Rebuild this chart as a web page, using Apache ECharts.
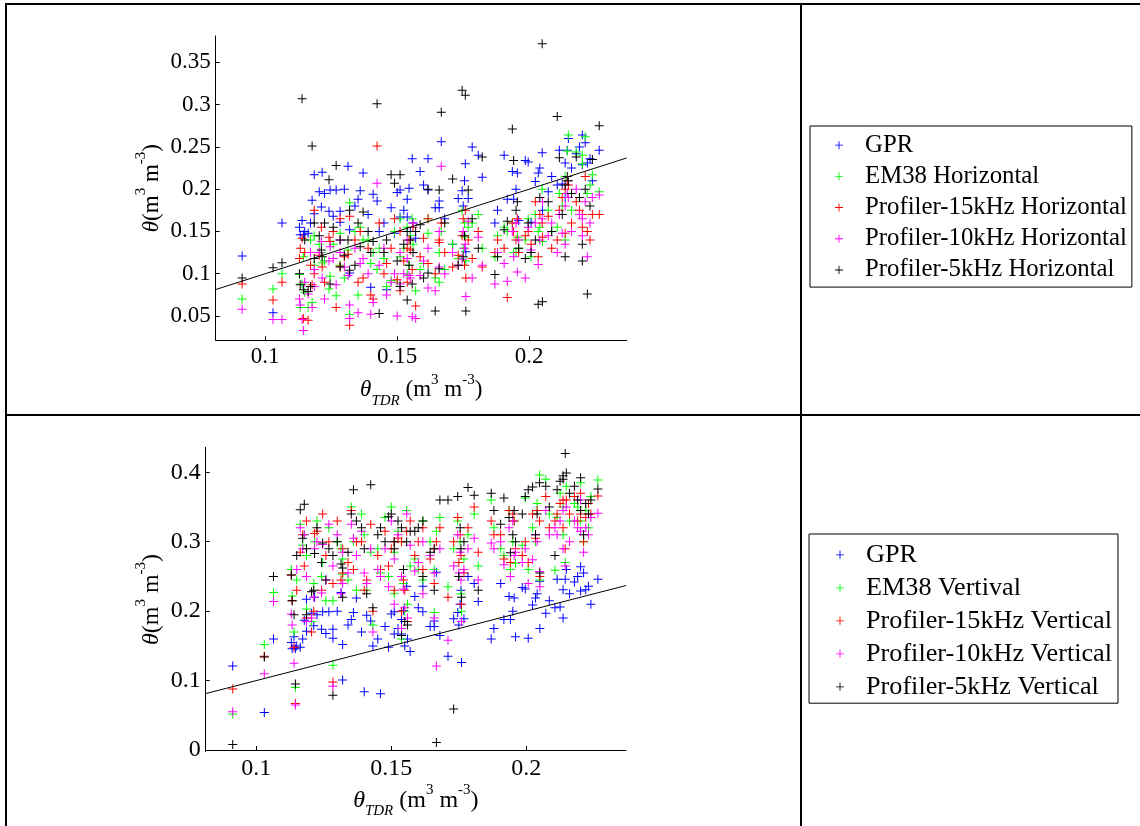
<!DOCTYPE html>
<html><head><meta charset="utf-8">
<script src="https://cdn.jsdelivr.net/npm/echarts@6/dist/echarts.min.js"></script>
<style>html,body{margin:0;padding:0;background:#fff}#c{width:1140px;height:826px}</style>
</head><body><div id="c"></div>
<script>
// Shared TDR soil moisture (x) for every sampling location
const tdr = [0.0913,0.1030,0.1064,0.1130,0.1133,0.1140,0.1145,0.1163,0.1178,0.1186,
0.1186,0.1205,0.1213,0.1216,0.1242,0.1246,0.1269,0.1284,0.1284,0.1314,
0.1320,0.1320,0.1352,0.1360,0.1371,0.1400,0.1409,0.1424,0.1432,0.1460,
0.1477,0.1490,0.1500,0.1511,0.1511,0.1538,0.1538,0.1545,0.1557,0.1560,
0.1570,0.1587,0.1617,0.1617,0.1644,0.1659,0.1659,0.1667,0.1710,0.1731,
0.1746,0.1758,0.1760,0.1769,0.1784,0.1807,0.1822,0.1870,0.1905,0.1917,
0.1936,0.1941,0.1955,0.1960,0.1985,0.1996,0.2007,0.2023,0.2034,0.2049,
0.2050,0.2072,0.2106,0.2114,0.2125,0.2136,0.2136,0.2144,0.2148,0.2178,
0.2201,0.2201,0.2212,0.2220,0.2239,0.2265,
0.1150,0.1172,0.1225,0.1258,0.1300,0.1340,0.1390,0.1450,0.1525,0.1550,
0.1600,0.1680,0.1750,0.1755,0.1880,0.1950,0.2040,0.2085,0.2160,0.2190,0.2230];
const gpr = [.121,.054,.160,.155,.146,.163,.146,.148,.187,.171,
.217,.197,.179,.220,.174,.199,.199,.174,.161,.227,
.152,.101,.188,.198,.219,.084,.194,.186,.150,.081,
.178,.148,.196,.199,.167,.188,.167,.201,.236,.160,
.142,.221,.236,.199,.178,.186,.178,.256,.135,.189,
.198,.230,.126,.189,.250,.240,.214,.160,.240,.188,
.221,.188,.219,.163,.234,.232,.161,.209,.219,.243,
.175,.197,.205,.246,.206,.231,.190,.246,.260,.242,
.264,.229,.255,.231,.210,.246,
.150,.160,.195,.168,.200,.180,.170,.160,.175,.150,
.205,.165,.180,.210,.175,.200,.225,.215,.225,.250,.236];
const em38H = [.070,.082,.100,.099,.060,.088,.120,.060,.066,.110,
.145,.135,.125,.113,.082,.097,.074,.110,.148,.128,
.184,.052,.075,.155,.140,.112,.125,.105,.130,.085,
.092,.150,.090,.165,.120,.155,.100,.110,.165,.135,
.080,.105,.148,.165,.095,.125,.090,.150,.135,.118,
.175,.143,.115,.155,.160,.170,.130,.120,.155,.150,
.160,.125,.143,.130,.140,.165,.120,.170,.150,.200,
.138,.175,.155,.195,.180,.215,.140,.245,.264,.244,
.230,.240,.262,.195,.217,.197,
.078,.140,.115,.135,.095,.150,.140,.118,.130,.145,
.112,.105,.130,.160,.145,.125,.155,.150,.175,.190,.205];
const p15H = [.088,.069,.090,.118,.130,.142,.047,.045,.087,.175,
.100,.122,.155,.108,.143,.138,.060,.109,.165,.123,
.168,.039,.090,.150,.095,.075,.070,.251,.160,.112,
.130,.165,.093,.150,.080,.130,.090,.140,.105,.155,
.062,.120,.165,.112,.100,.137,.140,.160,.108,.122,
.145,.175,.095,.140,.118,.150,.108,.125,.130,.072,
.160,.150,.165,.125,.145,.150,.135,.185,.120,.160,
.143,.168,.140,.175,.190,.200,.148,.210,.205,.185,
.170,.155,.215,.150,.170,.170,
.125,.110,.090,.150,.120,.140,.130,.100,.115,.128,
.142,.125,.165,.110,.140,.140,.170,.130,.160,.175,.140];
const p10H = [.058,.046,.046,.070,.063,.046,.033,.076,.060,.085,
.105,.125,.138,.095,.115,.132,.087,.140,.125,.098,
.063,.047,.054,.112,.118,.052,.066,.207,.110,.075,
.090,.100,.050,.125,.088,.140,.118,.098,.049,.160,
.047,.098,.130,.083,.080,.150,.108,.227,.125,.110,
.117,.135,.073,.162,.095,.143,.110,.088,.112,.091,
.150,.120,.102,.140,.095,.155,.128,.160,.111,.165,
.185,.145,.125,.170,.148,.180,.135,.195,.190,.200,
.145,.165,.185,.120,.190,.193,
.090,.125,.070,.118,.108,.130,.100,.130,.100,.095,
.115,.100,.150,.130,.125,.160,.140,.160,.150,.170,.160];
const p5H = [.095,.107,.113,.100,.087,.307,.081,.079,.251,.118,
.160,.145,.128,.120,.211,.088,.228,.140,.108,.140,
.175,.104,.160,.132,.173,.125,.138,.301,.053,.140,
.217,.207,.115,.217,.085,.150,.069,.110,.088,.125,
.150,.158,.200,.101,.056,.199,.106,.291,.212,.110,
.317,.311,.056,.199,.165,.130,.238,.099,.152,.162,
.271,.234,.185,.130,.118,.160,.125,.140,.064,.372,
.067,.185,.286,.237,.170,.120,.205,.215,.210,.238,
.135,.115,.200,.076,.235,.275,
.140,.085,.160,.155,.122,.110,.150,.125,.135,.140,
.095,.160,.120,.145,.120,.175,.190,.150,.195,.190,.180];
const em38V = [.052,.152,.227,.260,.222,.170,.090,.325,.310,.280,
.203,.185,.240,.300,.250,.270,.320,.122,.215,.290,
.275,.253,.350,.300,.230,.310,.230,.285,.180,.255,
.335,.250,.350,.225,.285,.160,.300,.240,.345,.210,
.265,.275,.330,.245,.300,.198,.260,.315,.235,.290,
.330,.225,.200,.275,.310,.340,.265,.360,.290,.280,
.345,.260,.330,.269,.295,.363,.260,.320,.300,.396,
.245,.390,.259,.335,.370,.310,.350,.270,.380,.355,
.330,.385,.300,.345,.365,.389,
.245,.295,.330,.215,.300,.245,.340,.290,.315,.200,
.260,.335,.250,.300,.320,.300,.355,.340,.330,.350,.320];
const p15V = [.088,.135,.250,.252,.215,.148,.067,.285,.265,.330,
.190,.170,.200,.312,.230,.340,.300,.098,.240,.245,
.255,.290,.345,.260,.300,.230,.245,.325,.200,.260,
.315,.265,.290,.230,.300,.200,.300,.245,.315,.185,
.330,.280,.320,.260,.275,.240,.290,.300,.220,.300,
.335,.280,.210,.255,.320,.350,.285,.330,.310,.275,
.345,.270,.330,.290,.280,.300,.270,.340,.305,.330,
.250,.365,.330,.340,.355,.320,.360,.290,.360,.365,
.340,.370,.300,.335,.340,.366,
.230,.310,.315,.280,.330,.270,.300,.280,.305,.230,
.300,.320,.270,.310,.310,.340,.345,.320,.340,.330,.355];
const p10V = [.055,.110,.214,.196,.180,.125,.065,.320,.310,.250,
.185,.190,.220,.290,.226,.296,.325,.092,.265,.225,
.285,.240,.325,.305,.280,.255,.240,.290,.170,.250,
.290,.235,.330,.210,.275,.175,.250,.232,.340,.190,
.295,.258,.300,.225,.280,.190,.255,.121,.158,.265,
.310,.245,.185,.260,.290,.305,.245,.298,.300,.267,
.320,.250,.280,.285,.270,.290,.240,.274,.310,.257,
.235,.345,.320,.310,.330,.290,.345,.265,.350,.330,
.315,.360,.285,.320,.335,.341,
.260,.290,.300,.245,.310,.255,.315,.260,.310,.205,
.270,.290,.255,.285,.290,.330,.300,.310,.300,.320,.310];
const p5V = [.008,.134,.250,.252,.215,.195,.095,.346,.354,.290,
.195,.228,.230,.283,.270,.298,.290,.079,.280,.268,
.262,.220,.340,.375,.330,.290,.225,.382,.205,.320,
.300,.336,.340,.290,.300,.165,.320,.260,.300,.180,
.315,.315,.330,.250,.285,.230,.290,.011,.360,.059,
.365,.290,.220,.300,.378,.367,.230,.370,.325,.363,
.335,.284,.345,.300,.340,.365,.375,.379,.310,.385,
.255,.380,.280,.375,.387,.390,.395,.427,.399,.380,
.345,.392,.310,.355,.360,.376,
.280,.305,.320,.245,.300,.285,.320,.310,.330,.185,
.320,.360,.250,.320,.345,.310,.340,.350,.370,.360,.340];

// 1:1 reference line ends (axis limits)
const lineEnds = [0.0813, 0.2369];
const xTicks = [0.1, 0.15, 0.2];
const yTicksTop = [0.05, 0.1, 0.15, 0.2, 0.25, 0.3, 0.35];
const yTicksBottom = [0, 0.1, 0.2, 0.3, 0.4];
const namesTop = ['GPR','EM38 Horizontal','Profiler-15kHz Horizontal','Profiler-10kHz Horizontal','Profiler-5kHz Horizontal'];
const namesBottom = ['GPR','EM38 Vertival','Profiler-15kHz Vertical','Profiler-10kHz Vertical','Profiler-5kHz Vertical'];
const colors = ['#0000ff','#00ff00','#ff0000','#ff00ff','#000000'];

const FONT = '"Liberation Serif","Times New Roman",serif';
const PLUS = 'path://M4,0H5V4H9V5H5V9H4V5H0V4H4Z';
const topY = [gpr, em38H, p15H, p10H, p5H];
const botY = [gpr, em38V, p15V, p10V, p5V];
const pair = ys => tdr.map((x, i) => [x, ys[i]]);
const fmt = v => String(+v.toFixed(3));

function rich(fs, sfs, lh, slh) {
  return {
    n: {fontFamily: FONT, fontSize: fs, lineHeight: lh, color: '#000'},
    th: {fontFamily: FONT, fontSize: fs, lineHeight: lh, fontStyle: 'italic', color: '#000'},
    sub: {fontFamily: FONT, fontSize: sfs, lineHeight: slh, fontStyle: 'italic', verticalAlign: 'bottom', color: '#000'},
    sup: {fontFamily: FONT, fontSize: sfs, lineHeight: slh, verticalAlign: 'top', color: '#000'}
  };
}
const xName = '{th|θ}{sub|TDR}{n| (m}{sup|3}{n| m}{sup|-3}{n|)}';
const yName = '{th|θ}{n|(m}{sup|3}{n| m}{sup|-3}{n|)}';

function xAxis(gi, fs, gap) {
  return {
    type: 'value', gridIndex: gi, min: lineEnds[0], max: lineEnds[1],
    splitLine: {show: false},
    axisLine: {lineStyle: {color: '#000', width: 1}},
    axisTick: {inside: true, length: 4, customValues: xTicks, lineStyle: {color: '#000'}},
    axisLabel: {customValues: xTicks, formatter: fmt, fontFamily: FONT, fontSize: fs, color: '#000', margin: 5},
    name: xName, nameLocation: 'middle', nameGap: gap,
    nameTextStyle: {rich: rich(fs, 15, 36, 14)}
  };
}
function yAxis(gi, min, max, ticks, fs, gap) {
  return {
    type: 'value', gridIndex: gi, min: min, max: max,
    splitLine: {show: false},
    axisLine: {show: true, lineStyle: {color: '#000', width: 1}},
    axisTick: {show: true, inside: true, length: 4, customValues: ticks, lineStyle: {color: '#000'}},
    axisLabel: {customValues: ticks, formatter: fmt, fontFamily: FONT, fontSize: fs, color: '#000', margin: 5},
    name: yName, nameLocation: 'middle', nameGap: gap,
    nameTextStyle: {rich: rich(fs, 15, 36, 14)}
  };
}

const series = [];
[[topY, namesTop, 0], [botY, namesBottom, 1]].forEach(([ys, names, gi]) => {
  ys.forEach((arr, k) => {
    series.push({
      type: 'scatter', name: names[k], xAxisIndex: gi, yAxisIndex: gi,
      data: pair(arr), symbol: PLUS, symbolSize: 9,
      itemStyle: {color: colors[k], opacity: 1}, silent: true
    });
  });
  series.push({
    type: 'line', xAxisIndex: gi, yAxisIndex: gi, data: [[lineEnds[0], lineEnds[0]], [lineEnds[1], lineEnds[1]]],
    showSymbol: false, symbol: 'none', lineStyle: {color: '#000', width: 1}, silent: true, z: 5
  });
});

function legend(names, left, top, pad, fs, gap) {
  return {
    data: names, orient: 'vertical', left: left, top: top, padding: pad,
    itemWidth: 8, itemHeight: 8, itemGap: gap, icon: PLUS,
    borderColor: '#000', borderWidth: 1, borderRadius: 0, backgroundColor: '#fff',
    selectedMode: false,
    textStyle: {fontFamily: FONT, fontSize: fs, lineHeight: fs + 0.5, color: '#000', padding: [0, 0, 0, 17]}
  };
}

const chart = echarts.init(document.getElementById('c'), null, {renderer: 'canvas'});
chart.setOption({
  animation: false,
  backgroundColor: '#fff',
  grid: [
    {left: 215.7, top: 36, width: 411, height: 304.3},
    {left: 205.7, top: 447.3, width: 420.3, height: 304.4}
  ],
  xAxis: [xAxis(0, 23, 32), xAxis(1, 24, 31)],
  yAxis: [yAxis(0, 0.0213, 0.3811, yTicksTop, 23, 46), yAxis(1, -0.0024, 0.436, yTicksBottom, 24, 36)],
  legend: [
    legend(namesTop, 810, 126, [6.5, 5, 4.5, 25], 24.8, 5.9),
    legend(namesBottom, 809, 534, [7.5, 6, 3, 27], 26.2, 6.3)
  ],
  series: series,
  graphic: [
    {type: 'line', shape: {x1: 5, y1: 4, x2: 1140, y2: 4}, style: {stroke: '#000', lineWidth: 2}, silent: true},
    {type: 'line', shape: {x1: 6, y1: 3, x2: 6, y2: 826}, style: {stroke: '#000', lineWidth: 2}, silent: true},
    {type: 'line', shape: {x1: 5, y1: 415, x2: 1140, y2: 415}, style: {stroke: '#000', lineWidth: 2}, silent: true},
    {type: 'line', shape: {x1: 801, y1: 3, x2: 801, y2: 826}, style: {stroke: '#000', lineWidth: 2}, silent: true}
  ]
});
</script></body></html>
